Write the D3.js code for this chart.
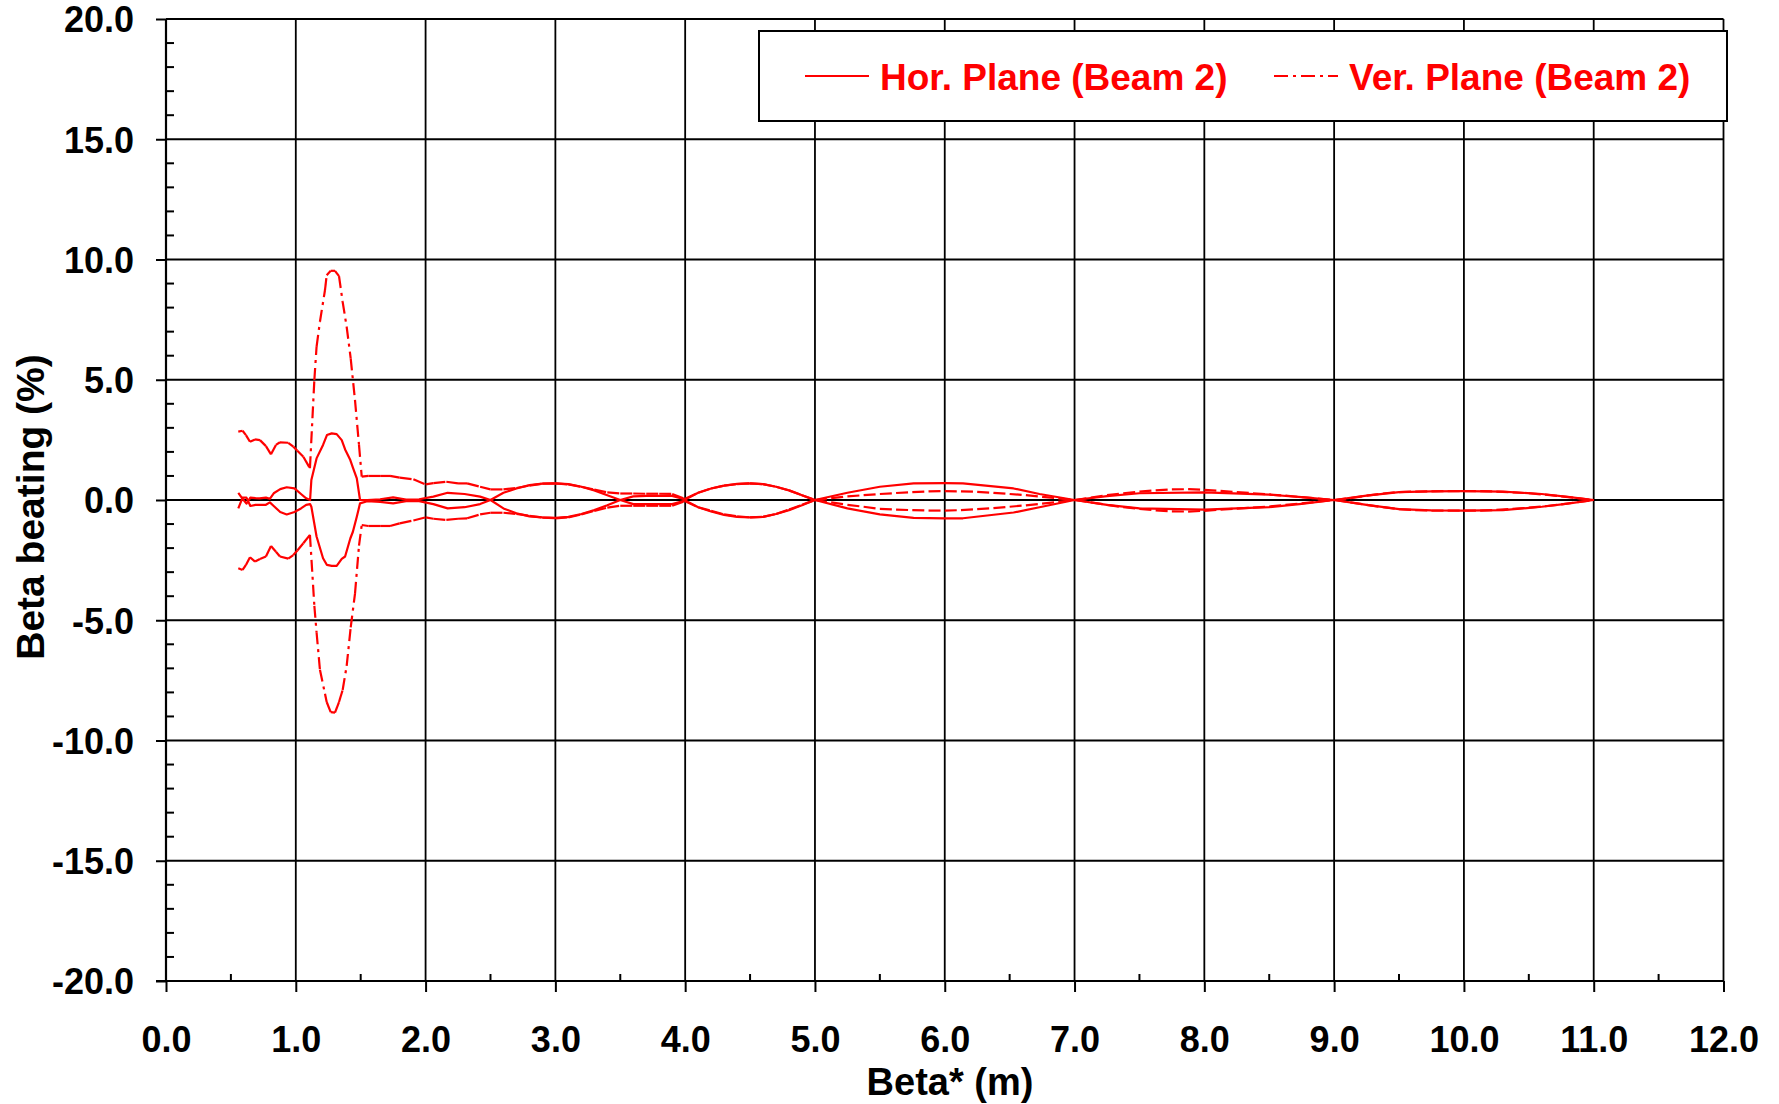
<!DOCTYPE html>
<html>
<head>
<meta charset="utf-8">
<script src="https://d3js.org/d3.v7.min.js"></script>
<style>
  body { margin: 0; background: #fff; }
  text { font-family: "Liberation Sans", Arial, sans-serif; font-weight: bold; }
</style>
</head>
<body>
<script>
var width = 1779
var height = 1104
var left = 166
var right = 1723.5
var top_y = 19
var bottom_y = 981

// horizontal plane, beam 2 (solid)
var hBeta = [0.557, 0.59, 0.62, 0.65, 0.69, 0.72, 0.77, 0.80, 0.83, 0.88, 0.93, 0.99, 1.04, 1.08, 1.11,
  1.12, 1.16, 1.21, 1.24, 1.277, 1.315, 1.354, 1.38, 1.42, 1.44, 1.47, 1.495,
  1.55, 1.65, 1.75, 1.85, 1.95, 2.06, 2.17, 2.3, 2.42, 2.5, 2.6, 2.7, 2.8, 2.9, 3.0, 3.1, 3.2, 3.3, 3.4, 3.5,
  3.6, 3.7, 3.8, 3.9, 4.0, 4.1, 4.2, 4.3, 4.4, 4.5, 4.6, 4.7, 4.8, 4.9, 5.0,
  5.25, 5.5, 5.76, 6.0, 6.14, 6.53, 6.73, 7.0, 7.25, 7.5, 8.0, 8.5, 8.75, 9.0,
  9.25, 9.5, 9.75, 10.0, 10.3, 10.6, 10.8, 11.0]
var hPos = [0.3, 0.05, -0.15, 0.1, 0.08, 0.07, 0.1, 0.05, 0.28, 0.45, 0.53, 0.48, 0.25, 0.07, 0.0,
  0.83, 1.73, 2.29, 2.70, 2.77, 2.74, 2.49, 2.1, 1.66, 1.35, 0.9, 0.0,
  0.0, 0.03, 0.11, 0.02, 0.03, 0.14, 0.30, 0.25, 0.14, 0.0, 0.3, 0.48, 0.62, 0.68, 0.69, 0.66, 0.55, 0.4, 0.2, 0.0,
  0.15, 0.17, 0.17, 0.17, 0.02, 0.3, 0.48, 0.6, 0.67, 0.69, 0.66, 0.55, 0.4, 0.2, 0.0,
  0.3, 0.55, 0.69, 0.7, 0.69, 0.48, 0.25, 0.0, 0.16, 0.28, 0.32, 0.22, 0.12, 0.0,
  0.18, 0.33, 0.36, 0.37, 0.35, 0.25, 0.13, 0.0]
var hNeg = [-0.35, 0.1, 0.1, -0.25, -0.2, -0.2, -0.2, -0.1, -0.25, -0.5, -0.6, -0.5, -0.35, -0.2, -0.17,
  -0.28, -1.52, -2.42, -2.7, -2.74, -2.74, -2.45, -2.35, -1.6, -1.32, -0.7, -0.14,
  -0.05, -0.08, -0.14, -0.05, -0.05, -0.17, -0.35, -0.3, -0.17, 0.0, -0.35, -0.55, -0.68, -0.72, -0.74, -0.7, -0.58, -0.42, -0.22, 0.0,
  -0.17, -0.17, -0.17, -0.17, -0.02, -0.3, -0.48, -0.62, -0.7, -0.72, -0.7, -0.58, -0.42, -0.22, 0.0,
  -0.35, -0.6, -0.74, -0.76, -0.76, -0.52, -0.3, 0.0, -0.2, -0.35, -0.4, -0.3, -0.16, 0.0,
  -0.2, -0.38, -0.43, -0.44, -0.42, -0.28, -0.15, 0.0]

// vertical plane, beam 2 (dash-dot)
var vBeta = [0.557, 0.59, 0.616, 0.647, 0.686, 0.724, 0.77, 0.809, 0.847, 0.878, 0.942, 0.981, 1.012, 1.058, 1.109,
  1.143, 1.16, 1.186, 1.225, 1.238, 1.269, 1.302, 1.333, 1.361, 1.392, 1.423, 1.456, 1.487, 1.508,
  1.559, 1.65, 1.726, 1.80, 1.906, 2.0, 2.06, 2.16, 2.25, 2.32, 2.42, 2.5, 2.6, 2.7, 2.8, 2.9, 3.0, 3.1, 3.2, 3.3, 3.4,
  3.5, 3.6, 3.7, 3.8, 3.9, 4.0, 4.1, 4.2, 4.3, 4.4, 4.5, 4.6, 4.7, 4.8, 4.9, 5.0,
  5.125, 5.25, 5.375, 5.5, 5.625, 5.75, 5.875, 6.0, 6.125, 6.25, 6.375, 6.5, 6.625, 6.75, 6.875, 7.0,
  7.125, 7.25, 7.375, 7.5, 7.625, 7.75, 7.875, 8.0, 8.125, 8.25, 8.375, 8.5, 8.625, 8.75, 8.875, 9.0,
  9.125, 9.25, 9.375, 9.5, 9.625, 9.75, 9.875, 10.0, 10.125, 10.25, 10.375, 10.5, 10.625, 10.75, 10.875, 11.0]
var vPos = [2.84, 2.88, 2.70, 2.42, 2.52, 2.49, 2.24, 1.90, 2.29, 2.40, 2.38, 2.22, 2.05, 1.80, 1.32,
  4.99, 6.37, 7.41, 8.73, 9.35, 9.53, 9.53, 9.31, 8.24, 7.20, 5.89, 4.16, 2.29, 0.97,
  1.0, 1.0, 1.0, 0.93, 0.86, 0.65, 0.70, 0.76, 0.69, 0.69, 0.55, 0.44, 0.44, 0.5, 0.6, 0.68, 0.69, 0.65, 0.55, 0.43, 0.32,
  0.27, 0.27, 0.26, 0.26, 0.25, 0.05, 0.3, 0.48, 0.6, 0.66, 0.69, 0.66, 0.55, 0.4, 0.2, 0.0,
  0.08, 0.15, 0.2, 0.25, 0.29, 0.33, 0.36, 0.37, 0.36, 0.34, 0.3, 0.25, 0.2, 0.13, 0.07, 0.0,
  0.1, 0.2, 0.28, 0.35, 0.4, 0.44, 0.45, 0.42, 0.38, 0.33, 0.28, 0.23, 0.18, 0.12, 0.06, 0.0,
  0.08, 0.18, 0.27, 0.33, 0.35, 0.36, 0.37, 0.37, 0.37, 0.35, 0.32, 0.28, 0.22, 0.15, 0.08, 0.0]
var vNeg = [-2.84, -2.91, -2.70, -2.38, -2.56, -2.45, -2.35, -1.91, -2.15, -2.35, -2.44, -2.29, -2.1, -1.80, -1.45,
  -4.4, -5.5, -7.06, -8.06, -8.4, -8.82, -8.84, -8.4, -7.9, -6.9, -5.3, -3.9, -1.9, -1.04,
  -1.08, -1.08, -1.08, -0.97, -0.85, -0.72, -0.78, -0.83, -0.78, -0.76, -0.6, -0.53, -0.53, -0.58, -0.66, -0.73, -0.76, -0.72, -0.6, -0.45, -0.32,
  -0.24, -0.24, -0.24, -0.24, -0.24, -0.05, -0.3, -0.45, -0.6, -0.68, -0.72, -0.7, -0.58, -0.4, -0.2, 0.0,
  -0.1, -0.2, -0.28, -0.37, -0.4, -0.42, -0.44, -0.44, -0.42, -0.38, -0.34, -0.28, -0.22, -0.15, -0.08, 0.0,
  -0.1, -0.2, -0.3, -0.37, -0.43, -0.47, -0.48, -0.45, -0.4, -0.36, -0.32, -0.27, -0.2, -0.14, -0.07, 0.0,
  -0.1, -0.2, -0.3, -0.38, -0.42, -0.44, -0.44, -0.44, -0.44, -0.41, -0.37, -0.32, -0.26, -0.18, -0.09, 0.0]

var xTicks = [0, 1, 2, 3, 4, 5, 6, 7, 8, 9, 10, 11, 12]
var yTicks = [-20, -15, -10, -5, 0, 5, 10, 15, 20]
var legendLabels = ["Hor. Plane (Beam 2)", "Ver. Plane (Beam 2)"]

function fmt(d) { return d.toFixed(1) }

var x = d3.scaleLinear()
.domain([0, 12])
.range([left, right])

var y = d3.scaleLinear()
.domain([-20, 20])
.range([bottom_y, top_y])

var svg = d3.select("body").append("svg")
.attr("width", width)
.attr("height", height)

// grid
svg.append("g")
.selectAll("line")
.data(xTicks.filter(function(d) { return d > 0 }))
.enter().append("line")
.attr("x1", function(d) { return x(d) })
.attr("x2", function(d) { return x(d) })
.attr("y1", top_y)
.attr("y2", bottom_y)
.attr("stroke", "#000")
.attr("stroke-width", 1.8)

svg.append("g")
.selectAll("line")
.data(yTicks.filter(function(d) { return d > -20 }))
.enter().append("line")
.attr("x1", left)
.attr("x2", right)
.attr("y1", function(d) { return y(d) })
.attr("y2", function(d) { return y(d) })
.attr("stroke", "#000")
.attr("stroke-width", 1.8)

// y axis: major ticks outside, minor ticks inside
var yAxis = svg.append("g")
.attr("transform", "translate(" + left + ",0)")
.call(d3.axisLeft(y).tickValues(yTicks).tickSize(10).tickPadding(22).tickFormat(fmt))
yAxis.select(".domain").remove()
yAxis.selectAll(".tick line").attr("stroke-width", 2)
yAxis.selectAll("text")
.attr("font-size", 36)
.attr("dy", "0.36em")
.attr("fill", "#000")
.style("font-family", "'Liberation Sans', Arial, sans-serif")
.style("font-weight", "bold")

yAxis.append("g")
.selectAll("line")
.data(d3.range(-20, 21, 1).filter(function(d) { return d % 5 != 0 }))
.enter().append("line")
.attr("x1", 0)
.attr("x2", 8)
.attr("y1", function(d) { return y(d) })
.attr("y2", function(d) { return y(d) })
.attr("stroke", "#000")
.attr("stroke-width", 2)

// x axis
var xAxis = svg.append("g")
.attr("transform", "translate(0," + bottom_y + ")")
.call(d3.axisBottom(x).tickValues(xTicks).tickSize(11).tickPadding(34).tickFormat(fmt))
xAxis.select(".domain").remove()
xAxis.selectAll(".tick line").attr("stroke-width", 2)
xAxis.selectAll("text")
.attr("font-size", 36)
.attr("fill", "#000")
.style("font-family", "'Liberation Sans', Arial, sans-serif")
.style("font-weight", "bold")

xAxis.append("g")
.selectAll("line")
.data(d3.range(0.5, 12, 1))
.enter().append("line")
.attr("x1", function(d) { return x(d) })
.attr("x2", function(d) { return x(d) })
.attr("y1", 0)
.attr("y2", -7)
.attr("stroke", "#000")
.attr("stroke-width", 2)

// axis lines
svg.append("line")
.attr("x1", left).attr("x2", left)
.attr("y1", top_y).attr("y2", bottom_y)
.attr("stroke", "#000").attr("stroke-width", 2.2)
svg.append("line")
.attr("x1", left - 10).attr("x2", right)
.attr("y1", bottom_y).attr("y2", bottom_y)
.attr("stroke", "#000").attr("stroke-width", 2.2)

// H curves, solid
var hLine = d3.line()
.x(function(d, i) { return x(hBeta[i]) })
.y(function(d) { return y(d) })

var plot = svg.append("g")
plot.selectAll("path.h")
.data([hPos, hNeg])
.enter().append("path")
.attr("class", "h")
.attr("d", hLine)
.attr("fill", "none")
.attr("stroke", "#ff0000")
.attr("stroke-width", 2.2)
.attr("stroke-linejoin", "round")

// V curves, dash-dot restarting on every segment (as the original plot does)
var vSegs = []
;[vPos, vNeg].forEach(function(vals) {
    for (var i = 0; i < vBeta.length - 1; i++) {
        vSegs.push([vBeta[i], vals[i], vBeta[i + 1], vals[i + 1]])
    }
})

plot.selectAll("line.v")
.data(vSegs)
.enter().append("line")
.attr("class", "v")
.attr("x1", function(d) { return x(d[0]) })
.attr("y1", function(d) { return y(d[1]) })
.attr("x2", function(d) { return x(d[2]) })
.attr("y2", function(d) { return y(d[3]) })
.attr("stroke", "#ff0000")
.attr("stroke-width", 2.2)
.attr("stroke-linecap", "butt")
.style("stroke-dasharray", "12,5,3,5")

// legend
var legend = svg.append("g")
legend.append("rect")
.attr("x", 759)
.attr("y", 31)
.attr("width", 968)
.attr("height", 90)
.attr("fill", "#fff")
.attr("stroke", "#000")
.attr("stroke-width", 2)

var legendX = [805, 1274]
legend.selectAll("line.key")
.data(legendLabels)
.enter().append("line")
.attr("class", "key")
.attr("x1", function(d, i) { return legendX[i] })
.attr("x2", function(d, i) { return legendX[i] + 64 })
.attr("y1", 76)
.attr("y2", 76)
.attr("stroke", "#ff0000")
.attr("stroke-width", 2)
.style("stroke-dasharray", function(d, i) { return i == 0 ? null : "14,5,3,5,14,5,3,5" })

legend.selectAll("text")
.data(legendLabels)
.enter().append("text")
.attr("x", function(d, i) { return legendX[i] + 75 })
.attr("y", 90)
.attr("font-size", 37)
.attr("fill", "#ff0000")
.text(function(d) { return d })

// axis titles
svg.append("text")
.attr("x", 950)
.attr("y", 1095)
.attr("text-anchor", "middle")
.attr("font-size", 38)
.text("Beta* (m)")

svg.append("text")
.attr("transform", "translate(44,507) rotate(-90)")
.attr("text-anchor", "middle")
.attr("font-size", 39)
.text("Beta beating (%)")
</script>
</body>
</html>
